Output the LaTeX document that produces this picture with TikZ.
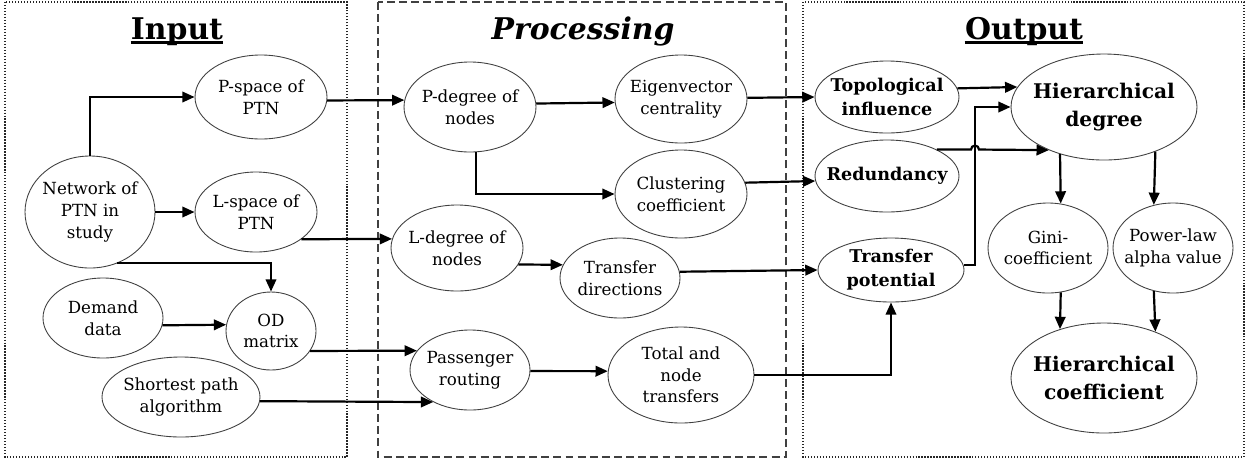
\documentclass[tikz,border=0pt]{standalone}
\usepackage{fontspec}
\setmainfont{DejaVu Serif}
\usetikzlibrary{shapes.geometric,arrows.meta,calc}
\begin{document}
\begin{tikzpicture}[x=0.02cm,y=-0.02cm,
  ell/.style 2 args={ellipse,draw=black!75,line width=0.5pt,
    minimum width=#1*0.02cm,minimum height=#2*0.02cm,inner sep=0pt},
  txt/.style={align=center,inner sep=0pt,font=\fontsize{9.5}{12.3}\selectfont},
  btxt/.style={align=center,inner sep=0pt,font=\fontsize{10}{13.5}\selectfont\bfseries},
  bigtxt/.style={align=center,inner sep=0pt,font=\fontsize{11.5}{16}\selectfont\bfseries},
  ttl/.style={anchor=base,inner sep=0pt,font=\fontsize{17}{20}\selectfont\bfseries},
  ul/.style={line width=1.6pt},
  arr/.style={-{Triangle[length=7pt,width=6pt]},line width=1.25pt},
  panel/.style={draw=black!85,line width=0.7pt,densely dotted},
  midpanel/.style={draw=black!75,line width=0.9pt,dash pattern=on 4.5pt off 2.4pt}]

\useasboundingbox[fill=white] (0,0) rectangle (1247,461);

% three stage panels
\draw[panel] (5,2) rectangle (347,457);
\draw[midpanel] (378,2) rectangle (786,457);
\draw[panel] (803,2) rectangle (1244,457);

% panel headings
\node[ttl] (tin) at (177,39) {Input};
\draw[ul] ([yshift=-2.2pt]tin.base west) -- ([yshift=-2.2pt]tin.base east);
\node[ttl,font=\fontsize{17}{20}\selectfont\bfseries\itshape] (tproc) at (583,39) {Processing};
\node[ttl] (tout) at (1024,39) {Output};
\draw[ul] ([yshift=-2.2pt]tout.base west) -- ([yshift=-2.2pt]tout.base east);

% input stage
\node[ell={130}{112}] (net) at (90,212) {};
\node[txt] (net-t) at (net.center) {Network of\\PTN in\\study};
\node[ell={132}{84}] (psp) at (261,97) {};
\node[txt] (psp-t) at (psp.center) {P-space of\\PTN};
\node[ell={122}{80}] (lsp) at (256,212) {};
\node[txt] (lsp-t) at (lsp.center) {L-space of\\PTN};
\node[ell={120}{80}] (dem) at (103,318) {};
\node[txt] (dem-t) at (dem.center) {Demand\\data};
\node[ell={90}{78}] (od) at (271,331) {};
\node[txt] (od-t) at (od.center) {OD\\matrix};
\node[ell={158}{80}] (spa) at (181,397) {};
\node[txt] (spa-t) at (spa.center) {Shortest path\\algorithm};

% processing stage
\node[ell={132}{90}] (pdeg) at (470,107) {};
\node[txt] (pdeg-t) at (pdeg.center) {P-degree of\\nodes};
\node[ell={132}{88}] (eig) at (681,99) {};
\node[txt] (eig-t) at (eig.center) {Eigenvector\\centrality};
\node[ell={132}{88}] (clu) at (681,194) {};
\node[txt] (clu-t) at (clu.center) {Clustering\\coefficient};
\node[ell={132}{86}] (ldeg) at (457,248) {};
\node[txt] (ldeg-t) at (ldeg.center) {L-degree of\\nodes};
\node[ell={120}{80}] (tdir) at (620,278) {};
\node[txt] (tdir-t) at (tdir.center) {Transfer\\directions};
\node[ell={120}{80}] (pr) at (470,370) {};
\node[txt] (pr-t) at (pr.center) {Passenger\\routing};
\node[ell={146}{96}] (tot) at (681,375) {};
\node[txt] (tot-t) at (tot.center) {Total and\\node\\transfers};

% output stage
\node[ell={144}{72}] (topo) at (887,97) {};
\node[btxt] (topo-t) at (topo.center) {Topological\\influence};
\node[ell={144}{72}] (red) at (887,176) {};
\node[btxt] (red-t) at (red.center) {Redundancy};
\node[ell={146}{64}] (tp) at (891,270) {};
\node[btxt] (tp-t) at (tp.center) {Transfer\\potential};
\node[ell={186}{106}] (hd) at (1104,107) {};
\node[bigtxt] (hd-t) at (hd.center) {Hierarchical\\degree};
\node[ell={120}{90}] (gini) at (1048,248) {};
\node[txt] (gini-t) at (gini.center) {Gini-\\coefficient};
\node[ell={120}{90}] (pow) at (1173,248) {};
\node[txt] (pow-t) at (pow.center) {Power-law\\alpha value};
\node[ell={186}{110}] (hc) at (1104,378) {};
\node[bigtxt] (hc-t) at (hc.center) {Hierarchical\\coefficient};

% connectors
\draw[arr] (net.north) |- (psp.west);
\draw[arr] (net.east) -- (lsp.west);
\draw[arr] (net.-62) -| (od.north);
\draw[arr] (dem.-7) -- (od.172);
\draw[arr] (od.-27.4) -- (pr.160);
\draw[arr] (spa.-3.6) -- (pr.221.6);
\draw[arr] (psp.-3.5) -- (pdeg.174.8);
\draw[arr] (lsp.-31) -- (ldeg.172);
\draw[arr] (pdeg.3.5) -- (eig.183.5);
\draw[arr] (pdeg.-82.4) |- (clu.west);
\draw[arr] (ldeg.-15.7) -- (tdir.167.1);
\draw[arr] (pr.-1) -- (tot.177);
\draw[arr] (eig.1.7) -- (topo.west);
\draw[arr] (clu.10.7) -- (red.184.8);
\draw[arr] (tdir.6.75) -- (tp.west);
\draw[arr] (tot.east) -| (tp.south);
\draw[arr] (topo.7.4) -- (hd.167.7);
\coordinate (hop) at (975,150);
\draw[arr] (tp.4) -| (hop) |- (hd.west);
\path (red.28 -| hop) coordinate (hopL);
\draw[arr] (red.28) -- ([xshift=-0.08cm]hopL)
  arc[start angle=180,end angle=0,radius=0.08cm] -- (hd.218.3);
\draw[arr] (hd.-133.3) -- (gini.74.8);
\draw[arr] (hd.-41.8) -- (pow.114);
\draw[arr] (gini.-74.8) -- (hc.132.2);
\draw[arr] (pow.246) -- (hc.42.9);
\end{tikzpicture}
\end{document}
